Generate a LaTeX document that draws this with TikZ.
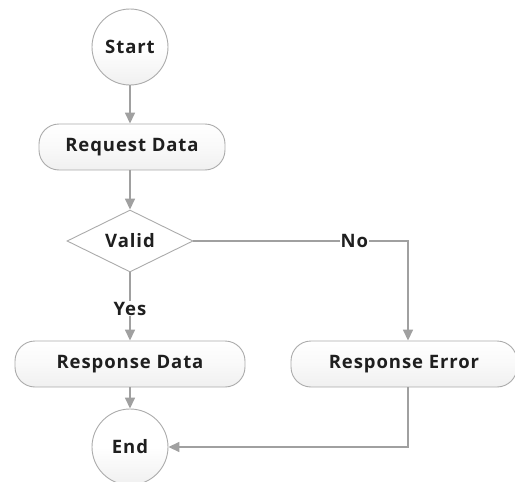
\documentclass[tikz,border=0pt]{standalone}
\usepackage{fontspec}
\setmainfont{Open Sans}[LetterSpace=5]
\usetikzlibrary{shapes.geometric,arrows.meta}
\definecolor{edgegray}{HTML}{A0A0A0}
\definecolor{bordergray}{HTML}{ABABAB}
\definecolor{fillbot}{HTML}{F0F0F0}
\tikzset{
  txt/.style={font=\fontsize{18.5}{21}\selectfont\bfseries, text=black!88},
  box/.style={txt, draw=bordergray, line width=0.9pt, top color=white, bottom color=fillbot, middle color=white!60!fillbot,
    rounded corners=20pt, minimum height=46pt},
  term/.style={txt, draw=bordergray, line width=0.9pt, circle, minimum size=76pt, inner sep=0pt,
    top color=white, bottom color=fillbot, middle color=white},
  dec/.style={txt, draw=bordergray, line width=0.9pt, diamond, aspect=2.03, minimum width=126pt, minimum height=62pt, inner sep=0pt,
    fill=white},
  conn/.style={draw=edgegray, line width=1.6pt, -{Triangle[length=11pt,width=10pt]}, color=edgegray},
  lbl/.style={txt, fill=white, inner sep=1pt}
}
\begin{document}
\begin{tikzpicture}[x=1pt,y=-1pt]
\useasboundingbox (0,0) rectangle (515,482);
\node[term] (start) at (130,47) {Start};
\node[box, minimum width=186pt] (req) at (132,147) {Request Data};
\node[dec] (valid) at (130,241) {Valid};
\node[box, minimum width=230pt] (rdata) at (130,364) {Response Data};
\node[box, minimum width=226pt] (rerr) at (404,364) {Response Error};
\node[term] (end) at (130,447) {End};
\coordinate (corner) at (408,241);
\coordinate (corner2) at (408,447);
\draw[conn] (start) -- (start|-req.north);
\draw[conn] (req.south-|valid) -- (valid.north);
\draw[conn] (valid.south) -- node[lbl, pos=0.53] {Yes} (valid.south|-rdata.north);
\draw[conn] (valid.east) -- node[lbl, pos=0.75] {No} (corner) -- (corner|-rerr.north);
\draw[conn] (rdata.south-|end) -- (end.north);
\draw[conn] (corner|-rerr.south) -- (corner2) -- (end.east);
\end{tikzpicture}
\end{document}
